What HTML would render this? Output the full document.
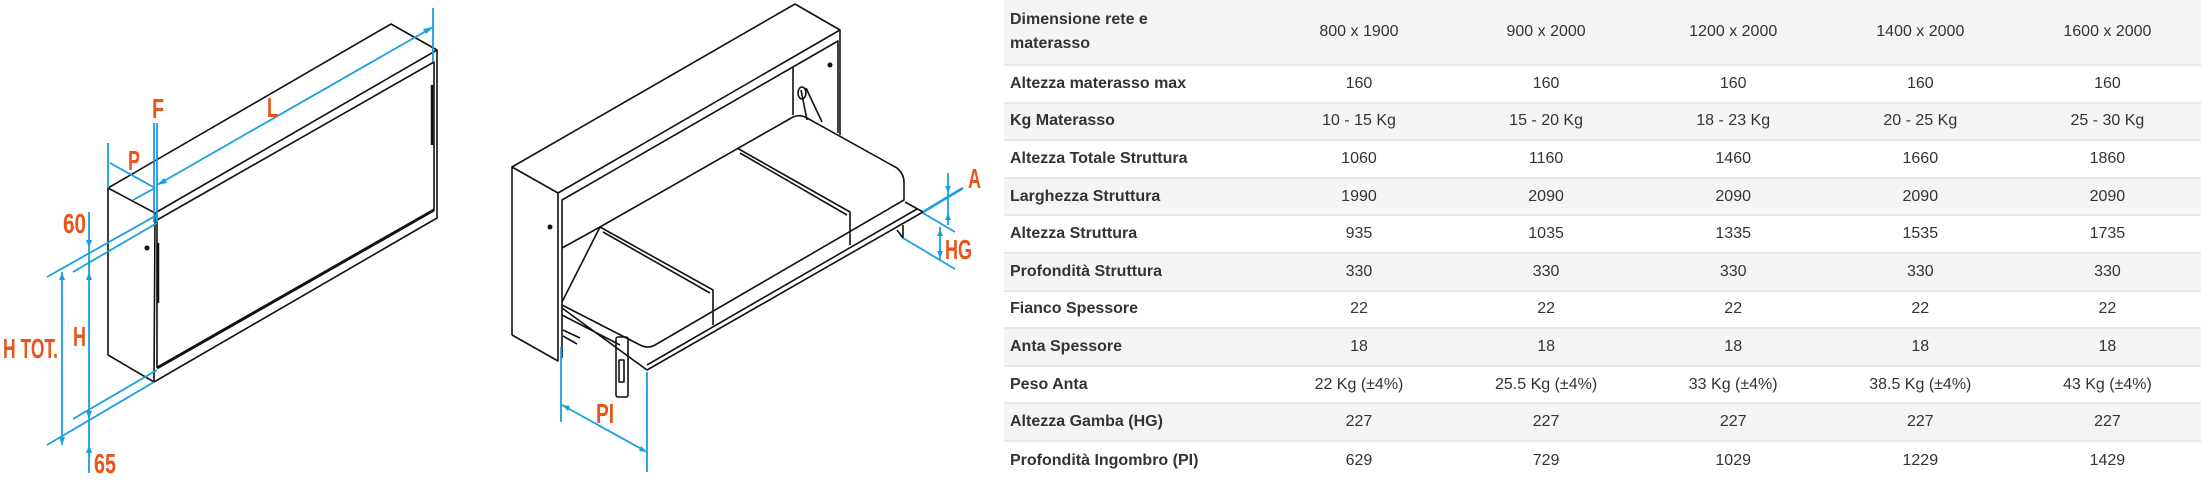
<!DOCTYPE html>
<html><head><meta charset="utf-8">
<style>
html,body{margin:0;padding:0;background:#fff;}
body{width:2201px;height:480px;position:relative;overflow:hidden;}
svg{position:absolute;left:0;top:0;}
.lab{font-family:"Liberation Sans",sans-serif;font-weight:bold;fill:#e8541a;}
#tbl{position:absolute;left:1004px;top:0;width:1197px;font-family:"Liberation Sans",sans-serif;color:#333;}
.r{position:relative;height:37.6px;border-bottom:2px solid #e8e8e8;box-sizing:border-box;display:flex;align-items:center;}
.r.g{background:#f5f5f5;}
.r.h{height:66px;}
.r div{width:189px;text-align:center;font-size:16px;}
.r div.l{width:264px;text-align:left;padding-left:6px;box-sizing:border-box;font-weight:bold;font-size:16px;line-height:24px;}
</style></head><body>
<svg width="1000" height="480" viewBox="0 0 1000 480">
<g fill="none" stroke="#111" stroke-width="1.6" stroke-linejoin="round">
 <polyline points="108,188 391,24 437,50 155,213 108,188 108,355 154,382 437,218 437,50"/>
 <line x1="155" y1="213" x2="154" y2="382"/>
 <polyline points="157,220 434,62 434,210 157,368" />
 <line x1="157" y1="368" x2="434" y2="210" stroke-width="3"/>
 <line x1="432" y1="85" x2="432" y2="145" stroke-width="2.5"/>
 <line x1="158" y1="243" x2="158" y2="303" stroke-width="2.5"/>
 <line x1="157" y1="220" x2="157" y2="368"/>
 <polyline points="512,335 512,167 795,4 840,30 558,193 512,167"/>
 <polyline points="512,335 558,361 558,193"/>
 <line x1="840" y1="30" x2="840" y2="135"/>
 <polyline points="562,358 562,200 838,41 838,133"/>
 <line x1="562" y1="248" x2="600" y2="227"/>
 <line x1="793" y1="67" x2="793" y2="115"/>
 <path d="M562,302 L600,227 L793,117 Q800,114 807,118 L897,168 Q904,174 904,182 L904,200 L655,345 Q648,349 640,345 L562,305"/>
 <path d="M600,227 L713,290 L713,325 M603,232 L710,293" />
 <path d="M737,148 L850,212 L850,245 M740,153 L847,215"/>
 <path d="M562,308 L647,370 L923,212 L905,202 M647,365 L917,209 M562,315 L620,345"/>
 <path d="M563,330 L580,338 M563,336 L577,344"/>
 <rect x="616" y="337" width="12" height="60" rx="2"/>
 <rect x="619" y="360" width="5" height="22"/>
 <path d="M897,230 L903,238 L903,225"/>
 <path d="M801,90 L807,120 M806,88 L822,122"/>
 <ellipse cx="802" cy="93" rx="4" ry="6"/>
</g>
<g fill="#111"><circle cx="147" cy="248" r="2.5"/><circle cx="550" cy="227" r="2.5"/><circle cx="830" cy="65" r="2.5"/></g>
<g fill="none" stroke="#1a9fe0" stroke-width="1.8">
 <line x1="433" y1="8" x2="433" y2="62"/>
 <line x1="157" y1="185" x2="433" y2="27"/>
 <line x1="154" y1="123" x2="154" y2="222"/><line x1="157" y1="123" x2="157" y2="222"/>
 <line x1="108" y1="143" x2="108" y2="188"/>
 <line x1="110" y1="163" x2="155" y2="188"/>
 <line x1="133" y1="200" x2="155" y2="188"/>
 <line x1="47" y1="277" x2="157" y2="215"/>
 <line x1="73" y1="272" x2="157" y2="223"/>
 <line x1="73" y1="419" x2="157" y2="370"/>
 <line x1="47" y1="445" x2="154" y2="382"/>
 <line x1="89" y1="212" x2="89" y2="473"/>
 <line x1="62" y1="272" x2="62" y2="445"/>
 <line x1="561" y1="347" x2="561" y2="422"/>
 <line x1="647" y1="372" x2="647" y2="472"/>
 <line x1="562" y1="405" x2="647" y2="452"/>
 <line x1="923" y1="212" x2="963" y2="188" stroke-width="2.5"/>
 <line x1="948" y1="173" x2="948" y2="225"/>
 <line x1="940" y1="227" x2="940" y2="260"/>
 <line x1="923" y1="213" x2="955" y2="232"/>
 <line x1="903" y1="238" x2="955" y2="269"/>
</g>
<g fill="#1a9fe0">
 <polygon points="433,27 423,29 426,34"/><polygon points="157,185 164,178 167,183"/>
 <polygon points="89,248 86,240 92,240"/><polygon points="89,272 86,280 92,280"/>
 <polygon points="89,419 86,411 92,411"/><polygon points="89,445 86,453 92,453"/>
 <polygon points="62,272 59,280 65,280"/><polygon points="62,445 59,437 65,437"/>
 <polygon points="562,405 570,406 568,411"/><polygon points="647,452 639,451 641,446"/>
 <polygon points="948,193 945,186 951,186"/><polygon points="948,213 945,220 951,220"/>
 <polygon points="940,229 937,236 943,236"/><polygon points="940,258 937,251 943,251"/>
</g>
<g class="lab" font-size="28">
 <text x="152" y="118" textLength="12" lengthAdjust="spacingAndGlyphs">F</text>
 <text x="267" y="117" textLength="11" lengthAdjust="spacingAndGlyphs">L</text>
 <text x="128" y="170" textLength="12" lengthAdjust="spacingAndGlyphs">P</text>
 <text x="63" y="233" textLength="23" lengthAdjust="spacingAndGlyphs">60</text>
 <text x="73" y="346" textLength="13" lengthAdjust="spacingAndGlyphs">H</text>
 <text x="3" y="358" textLength="55" lengthAdjust="spacingAndGlyphs">H TOT.</text>
 <text x="94" y="473" textLength="22" lengthAdjust="spacingAndGlyphs">65</text>
 <text x="596" y="423" textLength="18" lengthAdjust="spacingAndGlyphs">PI</text>
 <text x="968" y="188" textLength="13" lengthAdjust="spacingAndGlyphs">A</text>
 <text x="945" y="259" textLength="27" lengthAdjust="spacingAndGlyphs">HG</text>
</g>
</svg>
<div id="tbl">
<div class="r h g"><div class="l">Dimensione rete e<br>materasso</div><div>800 x 1900</div><div>900 x 2000</div><div>1200 x 2000</div><div>1400 x 2000</div><div>1600 x 2000</div></div>
<div class="r"><div class="l">Altezza materasso max</div><div>160</div><div>160</div><div>160</div><div>160</div><div>160</div></div>
<div class="r g"><div class="l">Kg Materasso</div><div>10 - 15 Kg</div><div>15 - 20 Kg</div><div>18 - 23 Kg</div><div>20 - 25 Kg</div><div>25 - 30 Kg</div></div>
<div class="r"><div class="l">Altezza Totale Struttura</div><div>1060</div><div>1160</div><div>1460</div><div>1660</div><div>1860</div></div>
<div class="r g"><div class="l">Larghezza Struttura</div><div>1990</div><div>2090</div><div>2090</div><div>2090</div><div>2090</div></div>
<div class="r"><div class="l">Altezza Struttura</div><div>935</div><div>1035</div><div>1335</div><div>1535</div><div>1735</div></div>
<div class="r g"><div class="l">Profondità Struttura</div><div>330</div><div>330</div><div>330</div><div>330</div><div>330</div></div>
<div class="r"><div class="l">Fianco Spessore</div><div>22</div><div>22</div><div>22</div><div>22</div><div>22</div></div>
<div class="r g"><div class="l">Anta Spessore</div><div>18</div><div>18</div><div>18</div><div>18</div><div>18</div></div>
<div class="r"><div class="l">Peso Anta</div><div>22 Kg (±4%)</div><div>25.5 Kg (±4%)</div><div>33 Kg (±4%)</div><div>38.5 Kg (±4%)</div><div>43 Kg (±4%)</div></div>
<div class="r g"><div class="l">Altezza Gamba (HG)</div><div>227</div><div>227</div><div>227</div><div>227</div><div>227</div></div>
<div class="r" style="border-bottom:none"><div class="l">Profondità Ingombro (PI)</div><div>629</div><div>729</div><div>1029</div><div>1229</div><div>1429</div></div>
</div>
</body></html>
